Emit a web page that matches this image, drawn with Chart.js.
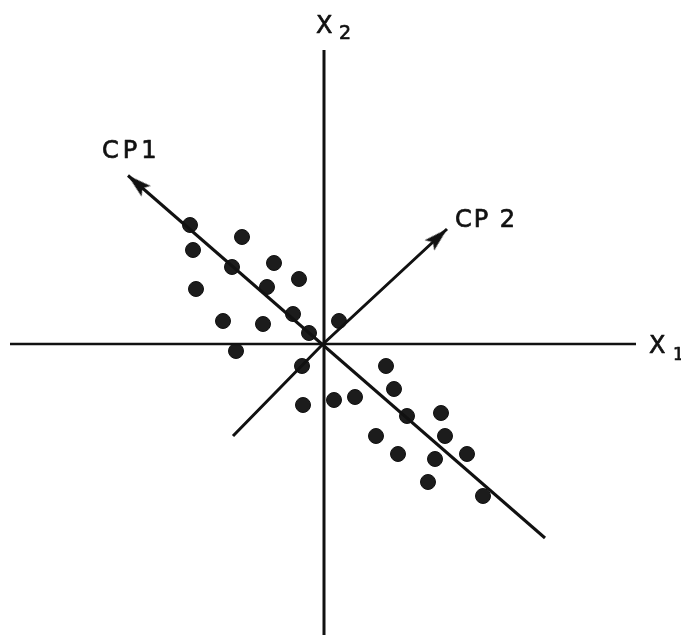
<!DOCTYPE html>
<html>
<head>
<meta charset="utf-8">
<script src="https://cdn.jsdelivr.net/npm/chart.js@4/dist/chart.umd.min.js"></script>
<style>
  html, body { margin: 0; padding: 0; background: #fff; }
  #wrap { width: 681px; height: 635px; position: relative; }
</style>
</head>
<body>
<div id="wrap"><canvas id="pcaChart"></canvas></div>
<script>
// observations (x1, x2)
const obsX1 = [-13.4, -8.2, -13.1, -9.2, -5.0, -2.5, -12.8, -5.7, -10.1, -6.1,
  -3.1, -1.5, 1.5, -8.8, -2.2, 6.2, 7.0, -2.1, 1.0, 3.1,
  8.3, 11.7, 5.2, 12.1, 7.4, 11.1, 14.3, 10.4, 15.9];
const obsX2 = [11.9, 10.7, 9.4, 7.7, 8.1, 6.5, 5.5, 5.7, 2.3, 2.0,
  3.0, 1.1, 2.3, -0.7, -2.2, -2.2, -4.5, -6.1, -5.6, -5.3,
  -7.2, -6.9, -9.2, -9.2, -11.0, -11.5, -11.0, -13.8, -15.2];

// original axes
const axisX1 = [[-31.4, 0], [31.2, 0]];
const axisX2 = [[0, 29.4], [0, -30]];

// principal components (first point of CP1 and last point of CP2 are the arrow tips)
const cp1 = [[-19.6, 16.85], [22.1, -19.4]];
const cp2 = [[-9.1, -9.2], [-0.2, -0.1], [12.3, 11.5]];

const toPts = arr => arr.map(p => ({ x: p[0], y: p[1] }));

// arrowhead sprite, tip at the centre of the canvas, body pointing down
function makeArrow(len, wid) {
  const c = document.createElement('canvas');
  c.width = wid + 2;
  c.height = len * 2 + 2;
  const g = c.getContext('2d');
  const cx = c.width / 2, tip = c.height / 2;
  g.fillStyle = '#111';
  g.beginPath();
  g.moveTo(cx, tip);
  g.lineTo(cx + wid / 2, tip + len);
  g.lineTo(cx, tip + len * 0.8);
  g.lineTo(cx - wid / 2, tip + len);
  g.closePath();
  g.fill();
  return c;
}
const arrow = makeArrow(24, 14);

const lineDs = (pts, width, extra) => Object.assign({
  data: toPts(pts),
  showLine: true,
  borderColor: '#111',
  borderWidth: width,
  pointRadius: 0,
  pointHoverRadius: 0,
  fill: false
}, extra || {});

// axis / component labels
const labels = [
  { text: 'CP1', x: -22.2, y: 18.6, size: 24, spacing: 4 },
  { text: 'CP 2', x: 13.1, y: 11.7, size: 24, spacing: 2 },
  { text: 'X', x: -0.8, y: 31.1, size: 24, spacing: 0 },
  { text: '2', x: 1.5, y: 30.5, size: 19, spacing: 0 },
  { text: 'X', x: 32.5, y: -0.9, size: 24, spacing: 0 },
  { text: '1', x: 34.9, y: -1.6, size: 17, spacing: 0 }
];

const labelPlugin = {
  id: 'labelPlugin',
  afterDatasetsDraw(chart) {
    const ctx = chart.ctx;
    const sx = chart.scales.x, sy = chart.scales.y;
    ctx.save();
    ctx.fillStyle = '#111';
    ctx.strokeStyle = '#111';
    ctx.lineWidth = 0.7;
    ctx.lineJoin = 'round';
    ctx.textAlign = 'left';
    ctx.textBaseline = 'alphabetic';
    labels.forEach(l => {
      const px = sx.getPixelForValue(l.x), py = sy.getPixelForValue(l.y);
      ctx.font = l.size + 'px "DejaVu Sans"';
      ctx.letterSpacing = l.spacing + 'px';
      ctx.fillText(l.text, px, py);
      ctx.strokeText(l.text, px, py);
    });
    ctx.restore();
  }
};

new Chart(document.getElementById('pcaChart'), {
  type: 'scatter',
  data: {
    datasets: [
      lineDs(axisX1, 2.5),
      lineDs(axisX2, 3),
      lineDs(cp1, 3, {
        pointRadius: [6, 0],
        pointStyle: [arrow, 'circle'],
        rotation: [-49, 0]
      }),
      lineDs(cp2, 3, {
        pointRadius: [0, 0, 6],
        pointStyle: ['circle', 'circle', arrow],
        rotation: [0, 0, 47]
      }),
      {
        data: obsX1.map((v, i) => ({ x: v, y: obsX2[i] })),
        pointRadius: 7.5,
        pointBackgroundColor: '#1c1c1c',
        pointBorderColor: '#111',
        pointBorderWidth: 1
      }
    ]
  },
  options: {
    responsive: true,
    maintainAspectRatio: false,
    animation: false,
    layout: { autoPadding: false, padding: 0 },
    scales: {
      x: { type: 'linear', min: -32.4, max: 35.7, display: false },
      y: { type: 'linear', min: -29.1, max: 34.4, display: false }
    },
    plugins: {
      legend: { display: false },
      tooltip: { enabled: false }
    }
  },
  plugins: [labelPlugin]
});
</script>
</body>
</html>
